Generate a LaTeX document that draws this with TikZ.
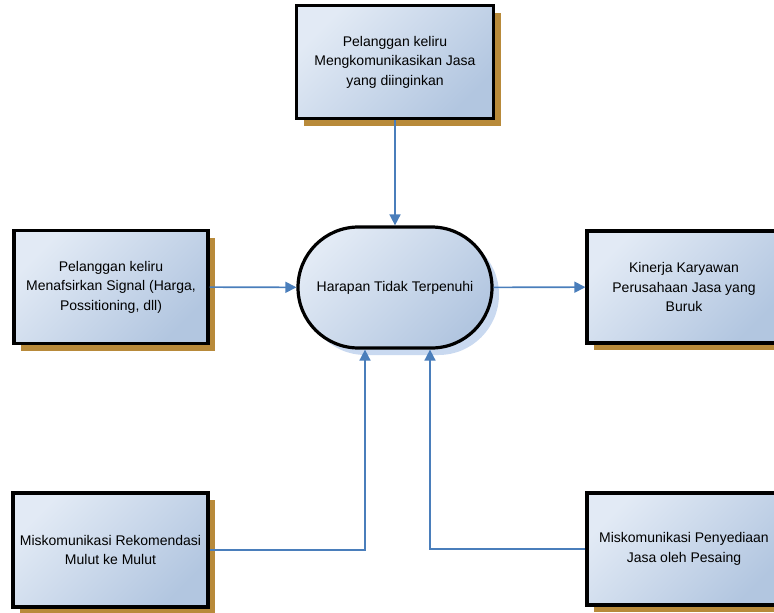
\documentclass[tikz,border=0pt]{standalone}
\usepackage{fontspec}
\setmainfont{Liberation Sans}
\usetikzlibrary{shapes.misc, arrows.meta, shadows}
\definecolor{fillA}{HTML}{E2EAF5}
\definecolor{fillB}{HTML}{B2C6E0}
\definecolor{shbrown}{HTML}{B88A3A}
\definecolor{shblue}{HTML}{BCD0EC}
\definecolor{arrowblue}{HTML}{4A7EBB}
\tikzset{
  box/.style={draw=black, line width=3.2pt, top color=fillA, bottom color=fillB, shading angle=45,
    minimum width=195pt, minimum height=112pt, align=center, inner sep=0pt,
    font=\fontsize{14}{19.5}\selectfont,
    drop shadow={shadow xshift=7pt, shadow yshift=-7pt, fill=shbrown, opacity=1}},
  term/.style={rounded rectangle, draw=black, line width=3.2pt, top color=fillA, bottom color=fillB, shading angle=45,
    minimum width=194pt, minimum height=121pt, align=center, inner sep=0pt,
    font=\fontsize{14}{19.5}\selectfont,
    drop shadow={shadow xshift=7pt, shadow yshift=-7pt, fill=shblue, opacity=0.8}},
  conn/.style={draw=arrowblue, line width=1.6pt, -{Triangle[width=11pt, length=11pt]}}
}
\begin{document}
\begin{tikzpicture}[x=1pt, y=-1pt]
\useasboundingbox (0,0) rectangle (774,613);
\node[box, minimum width=197pt, minimum height=113pt] (top) at (395,62) {Pelanggan keliru\\Mengkomunikasikan Jasa\\yang diinginkan};
\node[box, minimum width=194pt, minimum height=113pt] (left) at (111,287) {Pelanggan keliru\\Menafsirkan Signal (Harga,\\Possitioning, dll)};
\node[term] (c) at (395,287.5) {Harapan Tidak Terpenuhi};
\node[box, minimum width=194pt, minimum height=112pt] (right) at (684,287) {Kinerja Karyawan\\Perusahaan Jasa yang\\Buruk};
\node[box, minimum width=195pt, minimum height=114pt] (bl) at (110.5,550) {Miskomunikasi Rekomendasi\\Mulut ke Mulut};
\node[box, minimum width=194pt, minimum height=112pt] (br) at (684,549) {Miskomunikasi Penyediaan\\Jasa oleh Pesaing};
\draw[conn] (top) -- (c);
\draw[conn] (left) -- (c);
\draw[conn] (c) -- (right);
\draw[conn] (bl.east) -| ([xshift=-30pt]c.south);
\draw[conn] (br.west) -| ([xshift=35pt]c.south);
\end{tikzpicture}
\end{document}
